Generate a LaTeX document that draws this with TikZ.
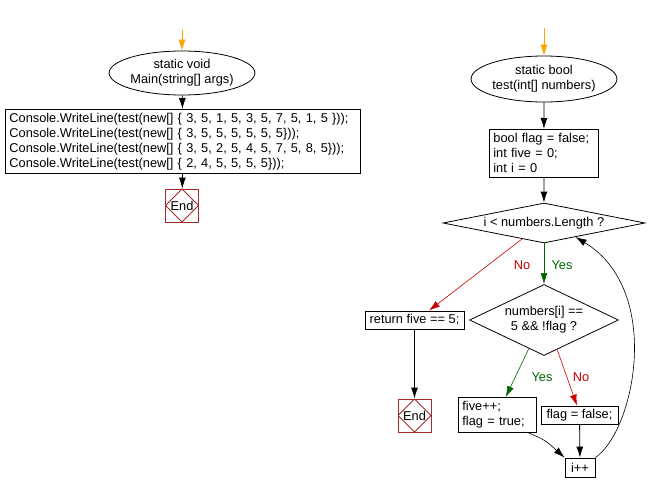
\documentclass[tikz,border=0pt]{standalone}
\usepackage{fontspec}
\setmainfont{Liberation Sans}
\usetikzlibrary{shapes.geometric,arrows.meta}

\definecolor{yesgreen}{HTML}{006400}
\definecolor{nored}{HTML}{CC0000}
\definecolor{endred}{HTML}{A52A2A}
\definecolor{startorange}{HTML}{FFA500}

\tikzset{
  flow/.style={line width=0.8pt,-{Latex[length=11pt,width=7pt]}},
  startflow/.style={flow,startorange},
  yesflow/.style={flow,yesgreen,line width=0.6pt},
  noflow/.style={flow,nored,line width=0.6pt},
  startell/.style={ellipse,draw,inner sep=0pt,align=center},
  codebox/.style={rectangle,draw,align=left,inner xsep=4pt,inner ysep=2pt},
  cond/.style={diamond,draw,align=center,inner sep=0pt},
  endbox/.style={draw=endred,minimum size=33pt,inner sep=0pt,
    path picture={\draw[endred] (path picture bounding box.north) -- (path picture bounding box.east)
      -- (path picture bounding box.south) -- (path picture bounding box.west) -- cycle;}},
  yeslbl/.style={text=yesgreen},
  nolbl/.style={text=nored}
}

\begin{document}
\begin{tikzpicture}[x=1pt,y=-1pt,line width=0.8pt,font=\fontsize{12.8}{15}\selectfont]
  \useasboundingbox (0,0) rectangle (651,492);
  % Main
  \coordinate (mainstart) at (182,30);
  \node[startell,minimum width=130pt,minimum height=44pt] (main) at (182,73) {static void\\Main(string[] args)};
  \node[codebox,anchor=north west,text width=347pt,minimum height=64pt] (calls) at (5,109)
    {Console.WriteLine(test(new[] \{ 3, 5, 1, 5, 3, 5, 7, 5, 1, 5 \}));\\
     Console.WriteLine(test(new[] \{ 3, 5, 5, 5, 5, 5, 5\}));\\
     Console.WriteLine(test(new[] \{ 3, 5, 2, 5, 4, 5, 7, 5, 8, 5\}));\\
     Console.WriteLine(test(new[] \{ 2, 4, 5, 5, 5, 5\}));};
  \node[endbox] (mainend) at (182,205.5) {End};
  \draw[startflow] (mainstart) -- (main);
  \draw[flow] (main) -- (calls);
  \draw[flow] (calls) -- (mainend);

  % test
  \coordinate (teststart) at (544,28);
  \node[startell,minimum width=130pt,minimum height=46pt] (test) at (544,79) {static bool\\test(int[] numbers)};
  \node[codebox,anchor=north west,text width=101pt,minimum height=48pt] (init) at (489,129)
    {bool flag = false;\\int five = 0;\\int i = 0};
  \node[cond,aspect=5,minimum width=202pt,minimum height=40pt] (loop) at (544,223) {i < numbers.Length ?};
  \node[cond,aspect=2,minimum width=149pt,minimum height=71pt] (check) at (544,320) {numbers[i] ==\\5 \&\& !flag ?};
  \node[codebox,minimum width=99pt,minimum height=18pt,inner ysep=1pt] (ret) at (414.5,320) {return five == 5;};
  \node[endbox] (testend) at (414.5,415.5) {End};
  \node[codebox,anchor=north west,text width=70pt,minimum height=35pt] (five) at (458,397) {five++;\\flag = true;};
  \node[codebox,minimum width=77pt,minimum height=18pt,inner ysep=1pt] (false) at (579.5,415) {flag = false;};
  \node[codebox,minimum width=30pt,minimum height=19pt,inner ysep=1pt] (ipp) at (580,467.5) {i++};

  \node[nolbl] (no1) at (522,265) {No};
  \node[yeslbl] (yes1) at (562,265) {Yes};
  \node[yeslbl] (yes2) at (542,377) {Yes};
  \node[nolbl] (no2) at (581,377) {No};

  \draw[startflow] (teststart) -- (test);
  \draw[flow] (test) -- (init);
  \draw[flow] (init) -- (loop);
  \draw[yesflow] (loop) -- (check);
  \draw[noflow] (loop.216) -- (ret.33);
  \draw[flow] (ret) -- (testend);
  \draw[yesflow] (check.242) -- (five.65);
  \draw[noflow] (check.294) -- (false.105);
  \draw[flow] (false) -- (ipp);
  \draw[flow,line width=0.6pt] (five.330) .. controls (545,440) .. (ipp.north west);
  \draw[flow,line width=0.6pt] (ipp.north east) .. controls (635,430) and (663,290) .. (loop.336);
\end{tikzpicture}
\end{document}
